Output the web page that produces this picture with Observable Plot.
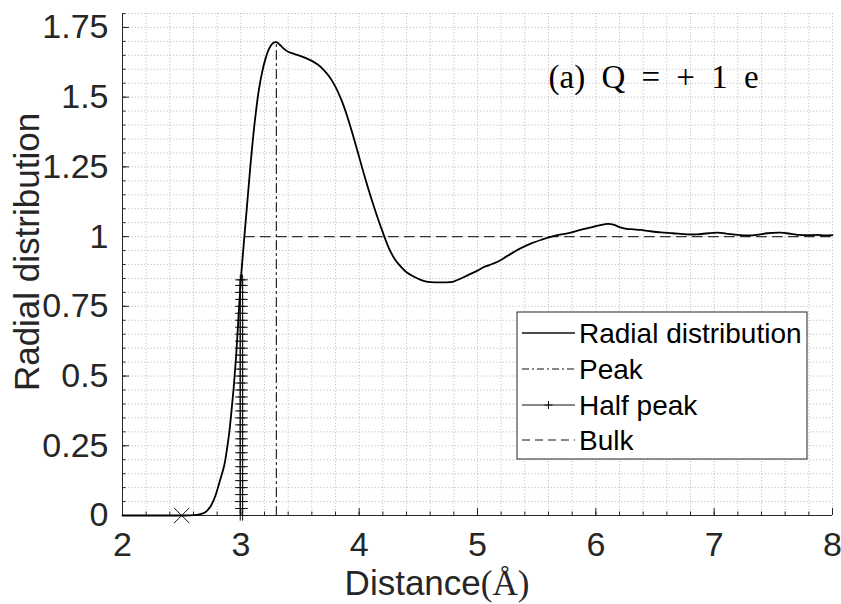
<!DOCTYPE html>
<html><head><meta charset="utf-8">
<script src="https://cdn.jsdelivr.net/npm/d3@7"></script>
<script src="https://cdn.jsdelivr.net/npm/@observablehq/plot@0.6"></script>
<style>body{margin:0;background:#fff;} #chart{width:841px;height:604px;}</style>
</head><body><div id="chart"></div>
<script>
// Radial distribution curve g(r)
const distance = [2.0,2.2,2.4,2.5,2.6,2.65,2.7,2.74,2.78,2.82,2.86,2.88,2.90,2.92,2.94,2.96,2.98,3.00,3.02,3.04,3.06,3.08,3.10,3.12,3.15,3.18,3.21,3.24,3.27,3.30,3.33,3.36,3.40,3.45,3.50,3.55,3.60,3.65,3.70,3.75,3.80,3.85,3.90,3.95,4.00,4.05,4.10,4.15,4.20,4.25,4.30,4.35,4.40,4.46,4.52,4.58,4.65,4.72,4.79,4.85,4.92,5.00,5.05,5.10,5.17,5.25,5.35,5.45,5.55,5.65,5.76,5.87,5.95,6.03,6.10,6.15,6.20,6.26,6.32,6.38,6.45,6.55,6.65,6.77,6.85,6.95,7.03,7.10,7.20,7.28,7.36,7.45,7.56,7.65,7.72,7.79,7.87,7.93,8.00];
const radial = [0,0,0,0,0.001,0.004,0.012,0.03,0.065,0.12,0.18,0.23,0.29,0.37,0.46,0.57,0.71,0.845,0.95,1.05,1.15,1.25,1.34,1.42,1.52,1.59,1.64,1.675,1.693,1.697,1.688,1.675,1.663,1.655,1.648,1.640,1.630,1.617,1.598,1.572,1.537,1.49,1.43,1.36,1.285,1.21,1.14,1.075,1.015,0.96,0.92,0.893,0.872,0.857,0.845,0.838,0.836,0.836,0.838,0.848,0.862,0.878,0.89,0.898,0.910,0.93,0.955,0.975,0.99,1.003,1.012,1.024,1.032,1.04,1.046,1.043,1.034,1.028,1.026,1.024,1.02,1.015,1.012,1.008,1.008,1.012,1.014,1.011,1.006,1.004,1.006,1.012,1.014,1.01,1.006,1.005,1.006,1.004,1.005];

// Peak (dash-dot vertical)
const peakX = [3.30, 3.30];
const peakY = [0, 1.696];
// Half peak (vertical with + markers)
const halfPeakX = [2.995, 3.015];
const halfPeakY = [0,0.025,0.05,0.075,0.1,0.125,0.15,0.175,0.2,0.225,0.25,0.275,0.3,0.325,0.35,0.375,0.4,0.425,0.45,0.475,0.5,0.525,0.55,0.575,0.6,0.625,0.65,0.675,0.7,0.725,0.75,0.775,0.8,0.825,0.845];
// Bulk (dashed horizontal)
const bulkX = [3.03, 8];
const bulkY = [1, 1];
// Contact point marker
const markX = [2.5];
const markY = [0];

const xTicks = [2,3,4,5,6,7,8];
const xTickLabels = ["2","3","4","5","6","7","8"];
const yTicks = [0,0.25,0.5,0.75,1,1.25,1.5,1.75];
const yTickLabels = ["0","0.25","0.5","0.75","1","1.25","1.5","1.75"];
const xMinor = d3.range(2, 8.001, 0.2);
const yMinor = d3.range(0, 1.8001, 0.05);

const legendLabels = ["Radial distribution","Peak","Half peak","Bulk"];
const annotation = "(a) Q = + 1 e";

const curve = distance.map((x,i)=>({x, y: radial[i]}));
const peak = peakX.map((x,i)=>({x, y: peakY[i]}));
const bulk = bulkX.map((x,i)=>({x, y: bulkY[i]}));
const halfSeries = halfPeakX.flatMap((x,k)=>halfPeakY.map(y=>({x, y, k})));

const ink = "#262626";
const plot = Plot.plot({
  width: 841, height: 604,
  marginLeft: 122, marginRight: 9, marginTop: 13, marginBottom: 89,
  x: {domain: [2, 8]},
  y: {domain: [0, 1.8]},
  style: {fontFamily: "'Liberation Sans', Arial, sans-serif", background: "white", overflow: "visible"},
  marks: [
    Plot.gridX(xMinor, {stroke: "#9a9a9a", strokeOpacity: 0.7, strokeDasharray: "1,2.2"}),
    Plot.gridY(yMinor, {stroke: "#9a9a9a", strokeOpacity: 0.7, strokeDasharray: "1,2.2"}),
    Plot.axisX(xMinor, {tickSize: -3.5, tickFormat: () => "", stroke: ink, label: null}),
    Plot.axisY(yMinor, {tickSize: -3.5, tickFormat: () => "", stroke: ink, label: null}),
    Plot.axisX(xTicks, {tickSize: -7, tickPadding: 23, fontSize: 34, fill: ink, stroke: ink, label: null,
      tickFormat: d => xTickLabels[xTicks.indexOf(d)]}),
    Plot.axisY(yTicks, {tickSize: -7, tickPadding: 21, fontSize: 34, fill: ink, stroke: ink, label: null,
      tickFormat: d => yTickLabels[yTicks.indexOf(d)]}),
    Plot.ruleX([2], {stroke: ink, strokeWidth: 1}),
    Plot.ruleY([0], {stroke: ink, strokeWidth: 1}),
    Plot.line(bulk, {x: "x", y: "y", stroke: "#333", strokeWidth: 1.1, strokeDasharray: "10,6"}),
    Plot.line(peak, {x: "x", y: "y", stroke: "#111", strokeWidth: 1.1, strokeDasharray: "9,4,2,4"}),
    Plot.line(halfSeries, {x: "x", y: "y", z: "k", stroke: "#111", strokeWidth: 1}),
    Plot.dot(halfSeries, {x: "x", y: "y", symbol: "plus", r: 3.4, stroke: "#111", strokeWidth: 1}),
    Plot.line(curve, {x: "x", y: "y", stroke: "#000", strokeWidth: 1.8, curve: "catmull-rom"}),
    Plot.dot(markX.map((x,i)=>({x, y: markY[i]})), {x: "x", y: "y", symbol: "times", r: 7, stroke: "#111", strokeWidth: 1}),
    Plot.text([annotation], {x: 5.6, y: 1.57, text: d => d, textAnchor: "start", fontSize: 33,
      fontFamily: "'Liberation Serif', 'DejaVu Serif', serif", fill: "#000"})
  ]
});
document.getElementById("chart").append(plot);

const svg = d3.select(plot);
svg.selectAll("text").filter(function(){ return this.textContent === annotation; })
  .style("word-spacing", "8px");

// axis labels
const xl = svg.append("text").attr("x", 437).attr("y", 595).attr("text-anchor", "middle")
  .attr("font-size", 35).attr("fill", ink).attr("font-family", "'Liberation Sans', Arial, sans-serif");
xl.append("tspan").text("Distance");
xl.append("tspan").attr("font-family", "'Liberation Serif', serif").text("(Å)");
svg.append("text").attr("transform", "translate(39,252) rotate(-90)").attr("text-anchor", "middle")
  .attr("font-size", 35).attr("fill", ink).attr("font-family", "'Liberation Sans', Arial, sans-serif")
  .text("Radial distribution");

// legend
const lg = svg.append("g").attr("font-family", "'Liberation Sans', Arial, sans-serif").attr("text-anchor", "start");
const bx = 517, by = 312, bw = 290, bh = 147;
lg.append("rect").attr("x", bx).attr("y", by).attr("width", bw).attr("height", bh)
  .attr("fill", "white").attr("stroke", ink).attr("stroke-width", 1);
const rowY = [333, 369, 405, 440];
const styles = [
  {dash: null, w: 1.6, plus: false},
  {dash: "7,3,2,3", w: 1, plus: false},
  {dash: null, w: 1, plus: true},
  {dash: "8,5", w: 1, plus: false}
];
legendLabels.forEach((lab, i) => {
  const y = rowY[i];
  lg.append("line").attr("x1", bx + 5).attr("x2", bx + 58).attr("y1", y).attr("y2", y)
    .attr("stroke", "#111").attr("stroke-width", styles[i].w)
    .attr("stroke-dasharray", styles[i].dash);
  if (styles[i].plus) {
    lg.append("path").attr("d", `M${bx+31.5},${y-4}V${y+4}M${bx+27.5},${y}H${bx+35.5}`)
      .attr("stroke", "#111").attr("stroke-width", 1);
  }
  lg.append("text").attr("x", bx + 62).attr("y", y + 10).attr("text-anchor", "start")
    .attr("font-size", 28).attr("fill", "#000").text(lab);
});
</script>
</body></html>
